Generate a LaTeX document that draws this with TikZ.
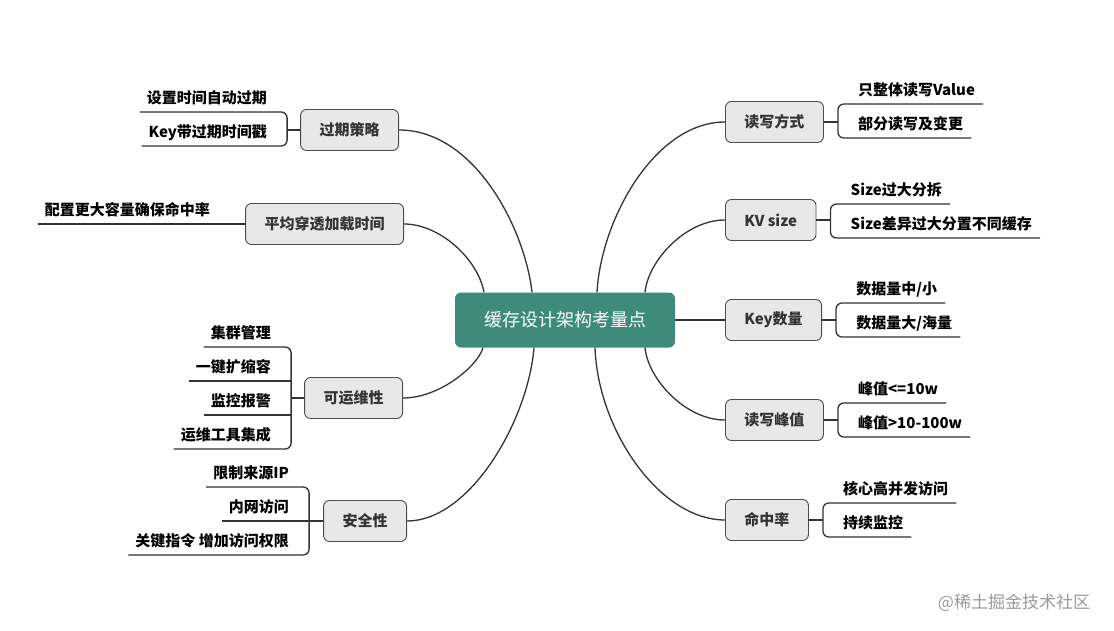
\documentclass[tikz,border=0pt]{standalone}
\usepackage{fontspec}
\setmainfont{Noto Sans CJK SC}
\usetikzlibrary{calc}
\definecolor{hub}{RGB}{62,139,124}
\definecolor{boxgray}{RGB}{232,232,232}

\begin{document}
\begin{tikzpicture}[x = 1pt, y = -1pt,
  topic/.style = {draw = black!70, fill = boxgray, rounded corners = 6pt, line width = 0.9pt, minimum height = 41pt, inner xsep = 19pt, font = \fontsize{15}{18}\selectfont\bfseries, text = black!80},
  leaf/.style = {inner xsep = 0pt, inner ysep = 0pt, text depth = 8pt, font = \fontsize{15}{18}\selectfont\bfseries},
  link/.style = {line width = 1.3pt, draw = black!80}]
\useasboundingbox (0,0) rectangle (1114,631);
\node [fill = hub, rounded corners = 6pt, minimum width = 220pt, minimum height = 55pt, text = white, font = \fontsize{18}{22}\selectfont] (c) at (565,320) {缓存设计架构考量点};
\node [topic, anchor = east] (e1) at (399,130) {过期策略};
\node [topic, anchor = east, minimum width = 157pt] (e2) at (404,224) {平均穿透加载时间};
\node [topic, anchor = east] (e3) at (403,398) {可运维性};
\node [topic, anchor = east] (e4) at (407,521) {安全性};
\node [topic, anchor = west] (r1) at (725,122) {读写方式};
\node [topic, anchor = west] (r2) at (725,220) {KV size};
\node [topic, anchor = west] (r3) at (725,320) {Key数量};
\node [topic, anchor = west] (r4) at (725,420) {读写峰值};
\node [topic, anchor = west] (r5) at (725,520) {命中率};
\draw [link] (e1.east) .. controls +(76,0) and +(-7,-63) .. ([xshift=-33pt]c.north);
\draw [link] (e2.east) .. controls +(36,0) and +(-6,-33) .. ([xshift=-81pt]c.north);
\draw [link] (e3.east) .. controls +(37,0) and +(-5,18) .. ([xshift=-82pt]c.south);
\draw [link] (e4.east) .. controls +(63,0) and +(-6,73) .. ([xshift=-31pt]c.south);
\draw [link] (r1.west) .. controls +(-70,0) and +(4,-73) .. ([xshift=32pt]c.north);
\draw [link] (r2.west) .. controls +(-40,0) and +(3,-31) .. ([xshift=80pt]c.north);
\draw [link] (c.east) -- (r3.west);
\draw [link] (r4.west) .. controls +(-40,0) and +(3,31) .. ([xshift=80pt]c.south);
\draw [link] (r5.west) .. controls +(-65,0) and +(3,83) .. ([xshift=30pt]c.south);
\coordinate (e1j) at ([xshift=-13pt]e1.west);
\node [leaf, anchor = south east] (e1a) at ($(e1j)+(-20,-18)$) {设置时间自动过期};
\node [leaf, anchor = south east] (e1b) at ($(e1j)+(-20,16)$) {Key带过期时间戳};
\draw [link] (e1j) -- (e1.west);
\draw [link, rounded corners = 6pt] ($(e1a.south west)+(-7,0)$) -- (e1a.south -| e1j) -- (e1b.south -| e1j) -- ($(e1b.south west)+(-7,0)$);
\node [leaf, anchor = south east] (e2a) at ([xshift=-35pt]e2.west) {配置更大容量确保命中率};
\draw [link] ($(e2a.south west)+(-7,0)$) -- (e2.west);
\coordinate (e3j) at ([xshift=-13pt]e3.west);
\node [leaf, anchor = south east] (e3a) at ($(e3j)+(-20,-51)$) {集群管理};
\node [leaf, anchor = south east] (e3b) at ($(e3j)+(-20,-17)$) {一键扩缩容};
\node [leaf, anchor = south east] (e3c) at ($(e3j)+(-20,17)$) {监控报警};
\node [leaf, anchor = south east] (e3d) at ($(e3j)+(-20,51)$) {运维工具集成};
\draw [link] (e3j) -- (e3.west);
\draw [link, rounded corners = 6pt] ($(e3a.south west)+(-7,0)$) -- (e3a.south -| e3j) -- (e3d.south -| e3j) -- ($(e3d.south west)+(-7,0)$);
\draw [link] ($(e3b.south west)+(-7,0)$) -- (e3b.south -| e3j);
\draw [link] ($(e3c.south west)+(-7,0)$) -- (e3c.south -| e3j);
\coordinate (e4j) at ([xshift=-14pt]e4.west);
\node [leaf, anchor = south east] (e4a) at ($(e4j)+(-20,-34)$) {限制来源IP};
\node [leaf, anchor = south east] (e4b) at ($(e4j)+(-20,0)$) {内网访问};
\node [leaf, anchor = south east] (e4c) at ($(e4j)+(-20,34)$) {关键指令 增加访问权限};
\draw [link, rounded corners = 6pt] ($(e4a.south west)+(-7,0)$) -- (e4a.south -| e4j) -- (e4c.south -| e4j) -- ($(e4c.south west)+(-7,0)$);
\draw [link] ($(e4b.south west)+(-7,0)$) -- (e4.west);
\coordinate (r1j) at ([xshift=14pt]r1.east);
\node [leaf, anchor = south west] (r1a) at ($(r1j)+(20,-18)$) {只整体读写Value};
\node [leaf, anchor = south west] (r1b) at ($(r1j)+(20,16)$) {部分读写及变更};
\draw [link] (r1.east) -- (r1j);
\draw [link, rounded corners = 6pt] ($(r1a.south east)+(8,0)$) -- (r1a.south -| r1j) -- (r1b.south -| r1j) -- ($(r1b.south east)+(8,0)$);
\coordinate (r2j) at ([xshift=14pt]r2.east);
\node [leaf, anchor = south west] (r2a) at ($(r2j)+(20,-16)$) {Size过大分拆};
\node [leaf, anchor = south west] (r2b) at ($(r2j)+(20,18)$) {Size差异过大分置不同缓存};
\draw [link] (r2.east) -- (r2j);
\draw [link, rounded corners = 6pt] ($(r2a.south east)+(8,0)$) -- (r2a.south -| r2j) -- (r2b.south -| r2j) -- ($(r2b.south east)+(8,0)$);
\coordinate (r3j) at ([xshift=14pt]r3.east);
\node [leaf, anchor = south west] (r3a) at ($(r3j)+(20,-17)$) {数据量中/小};
\node [leaf, anchor = south west] (r3b) at ($(r3j)+(20,17)$) {数据量大/海量};
\draw [link] (r3.east) -- (r3j);
\draw [link, rounded corners = 6pt] ($(r3a.south east)+(8,0)$) -- (r3a.south -| r3j) -- (r3b.south -| r3j) -- ($(r3b.south east)+(8,0)$);
\coordinate (r4j) at ([xshift=14pt]r4.east);
\node [leaf, anchor = south west] (r4a) at ($(r4j)+(20,-17)$) {峰值<=10w};
\node [leaf, anchor = south west] (r4b) at ($(r4j)+(20,17)$) {峰值>10-100w};
\draw [link] (r4.east) -- (r4j);
\draw [link, rounded corners = 6pt] ($(r4a.south east)+(8,0)$) -- (r4a.south -| r4j) -- (r4b.south -| r4j) -- ($(r4b.south east)+(8,0)$);
\coordinate (r5j) at ([xshift=14pt]r5.east);
\node [leaf, anchor = south west] (r5a) at ($(r5j)+(20,-17)$) {核心高并发访问};
\node [leaf, anchor = south west] (r5b) at ($(r5j)+(20,17)$) {持续监控};
\draw [link] (r5.east) -- (r5j);
\draw [link, rounded corners = 6pt] ($(r5a.south east)+(8,0)$) -- (r5a.south -| r5j) -- (r5b.south -| r5j) -- ($(r5b.south east)+(8,0)$);
\node [text = black!40, font = \fontsize{17}{20}\selectfont] (wm) at (1014,603) {@稀土掘金技术社区};
\end{tikzpicture}
\end{document}
